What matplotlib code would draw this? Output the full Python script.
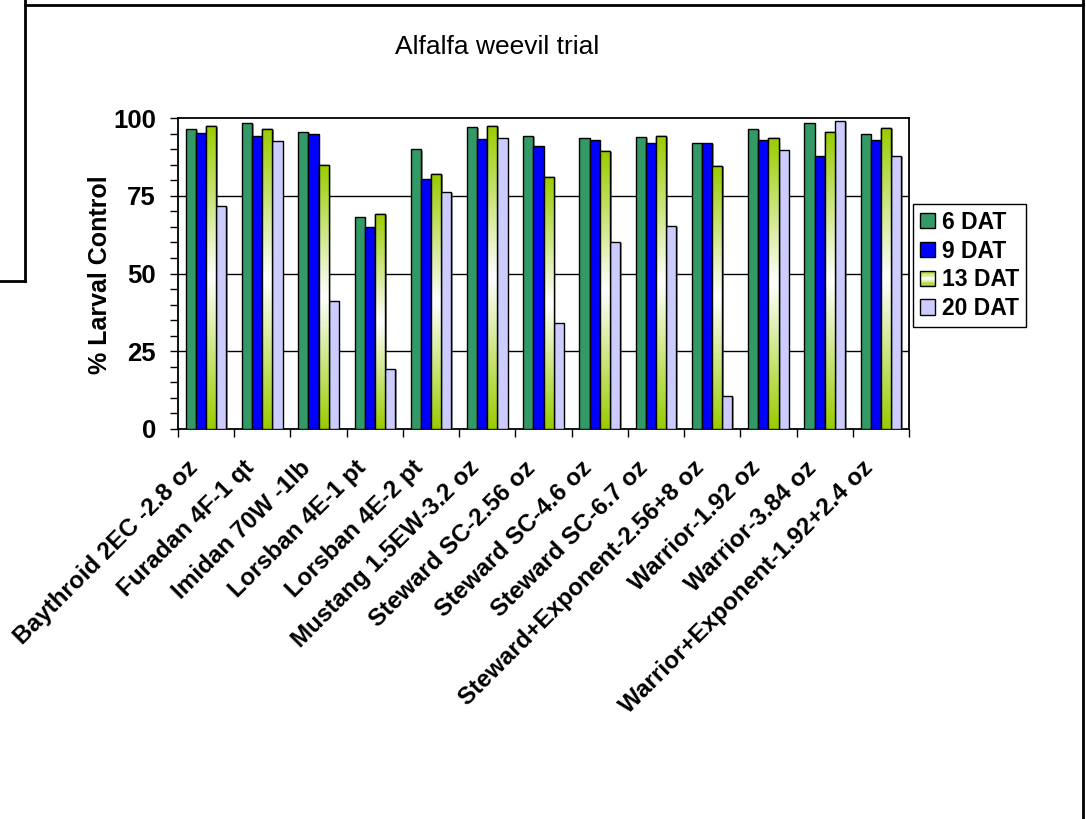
import numpy as np
import matplotlib
matplotlib.use('Agg')
import matplotlib.pyplot as plt
from matplotlib.patches import Patch, Rectangle
from matplotlib.colors import LinearSegmentedColormap
from matplotlib.legend_handler import HandlerBase
from matplotlib.lines import Line2D
from matplotlib.transforms import ScaledTranslation
import matplotlib.patheffects as pe

plt.rcParams['font.family'] = ['Liberation Sans', 'DejaVu Sans']

# data
treatments = ['Baythroid 2EC -2.8 oz', 'Furadan 4F-1 qt', 'Imidan 70W -1lb',
              'Lorsban 4E-1 pt', 'Lorsban 4E-2 pt', 'Mustang 1.5EW-3.2 oz',
              'Steward SC-2.56 oz', 'Steward SC-4.6 oz', 'Steward SC-6.7 oz',
              'Steward+Exponent-2.56+8 oz', 'Warrior-1.92 oz', 'Warrior-3.84 oz',
              'Warrior+Exponent-1.92+2.4 oz']
dat6 = [96.6, 98.3, 95.4, 68.3, 89.9, 97.2, 94.3, 93.7, 94.0, 91.9, 96.5, 98.3, 94.7]
dat9 = [95.1, 94.3, 94.7, 65.0, 80.5, 93.2, 91.0, 92.8, 91.9, 91.9, 92.8, 87.8, 92.8]
dat13 = [97.5, 96.6, 84.9, 69.2, 81.9, 97.5, 80.9, 89.3, 94.3, 84.6, 93.7, 95.4, 96.8]
dat20 = [71.8, 92.6, 41.1, 19.2, 76.1, 93.7, 34.1, 60.2, 65.4, 10.6, 89.6, 99.0, 87.8]
series_names = ['6 DAT', '9 DAT', '13 DAT', '20 DAT']
y_ticks = [0, 25, 50, 75, 100]

c6 = '#339966'
c9 = '#0000FF'
c13 = '#99CC00'
c20 = '#CCCCFF'
grad_cmap = LinearSegmentedColormap.from_list('g13', [c13, 'white', c13])

W, H = 1086, 819
fig = plt.figure(figsize=(W / 100, H / 100), dpi=100)
ax = fig.add_axes([178 / W, 1 - 429 / H, (909 - 178) / W, (429 - 118) / H])

x = np.arange(len(treatments))
bw = 0.18
shadow = [pe.SimplePatchShadow(offset=(1.2, -0.8), shadow_rgbFace='#555555', alpha=0.6), pe.Normal()]

b6 = ax.bar(x - 1.5 * bw, dat6, bw, color=c6, edgecolor='black', linewidth=1, zorder=3)
b9 = ax.bar(x - 0.5 * bw, dat9, bw, color=c9, edgecolor='black', linewidth=1, zorder=3)
b13 = ax.bar(x + 0.5 * bw, dat13, bw, color='white', edgecolor='black', linewidth=1, zorder=3)
b20 = ax.bar(x + 1.5 * bw, dat20, bw, color=c20, edgecolor='black', linewidth=1, zorder=3)
for bars in (b6, b9, b13, b20):
    for b in bars:
        b.set_path_effects(shadow)

# gradient fill for 13 DAT bars
grad = np.linspace(0, 1, 300).reshape(-1, 1)
for b in b13:
    x0, w, h = b.get_x(), b.get_width(), b.get_height()
    im = ax.imshow(grad, cmap=grad_cmap, extent=[x0, x0 + w, 0, h], aspect='auto',
                   origin='lower', zorder=3.5, interpolation='nearest', vmin=0, vmax=1)
    im.set_clip_path(b)
    ax.bar(x0 + w / 2, h, w, color='none', edgecolor='black', linewidth=1, zorder=4)

ax.set_xlim(-0.5, len(treatments) - 0.5)
ax.set_ylim(0, 100)
ax.set_yticks(y_ticks)
ax.set_yticklabels([str(v) for v in y_ticks], fontsize=18.5, fontweight='bold')
ax.set_yticks(np.arange(0, 101, 5), minor=True)
ax.tick_params(axis='y', which='both', direction='out', length=6, width=1, pad=10)
for v in y_ticks[1:-1]:
    ax.axhline(v, color='black', linewidth=1, zorder=1)

ax.set_xticks(x)
ax.set_xticklabels(treatments, rotation=45, ha='right', va='top', rotation_mode='anchor',
                   fontsize=17.5, fontweight='bold')
ax.tick_params(axis='x', which='major', length=0, pad=14)
shift = ScaledTranslation(-20 / 100, -8 / 100, fig.dpi_scale_trans)
for lab in ax.get_xticklabels():
    lab.set_transform(lab.get_transform() + shift)
ax.set_xticks(np.arange(-0.5, len(treatments), 1), minor=True)
ax.tick_params(axis='x', which='minor', direction='out', length=6, width=1)
for s in ax.spines.values():
    s.set_linewidth(1.3)
    s.set_color('black')

fig.text(497 / W, 1 - 47 / H, 'Alfalfa weevil trial', ha='center', va='center', fontsize=19)
fig.text(100 / W, 1 - 275 / H, '% Larval Control', ha='center', va='center', rotation=90,
         fontsize=18, fontweight='bold')


class GradHandler(HandlerBase):
    def create_artists(self, legend, orig_handle, xdescent, ydescent, width, height, fontsize, trans):
        arts = []
        n = 12
        for k in range(n):
            r = Rectangle((-xdescent, -ydescent + k * height / n), width, height / n,
                          facecolor=grad_cmap((k + 0.5) / n), edgecolor='none', transform=trans)
            arts.append(r)
        arts.append(Rectangle((-xdescent, -ydescent), width, height, facecolor='none',
                              edgecolor='black', linewidth=1, transform=trans))
        return arts


handles = [Patch(facecolor=c6, edgecolor='black'), Patch(facecolor=c9, edgecolor='black'),
           Patch(facecolor='white', edgecolor='black'), Patch(facecolor=c20, edgecolor='black')]
leg = fig.legend(handles, series_names, loc='upper left', bbox_to_anchor=(913 / W, 1 - 204 / H),
                 bbox_transform=fig.transFigure, borderaxespad=0, fancybox=False, framealpha=1,
                 edgecolor='black', prop={'size': 16.5, 'weight': 'bold'}, handlelength=0.65,
                 handleheight=0.65, handletextpad=0.3, labelspacing=0.25, borderpad=0.3,
                 handler_map={handles[2]: GradHandler()})
leg.get_frame().set_linewidth(1)

# surrounding frame lines
def fline(xs, ys, lw=2):
    fig.add_artist(Line2D([v / W for v in xs], [1 - v / H for v in ys], color='black',
                          linewidth=lw, transform=fig.transFigure))

fline([25, 1083], [5, 5])
fline([1083, 1083], [0, 819])
fline([25, 25], [0, 281])
fline([0, 25], [281, 281])

fig.savefig('out.png', dpi=100)
